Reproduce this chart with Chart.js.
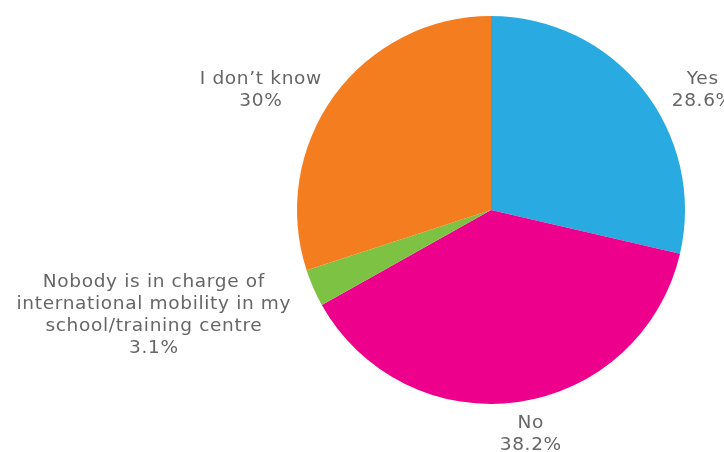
<!DOCTYPE html>
<html>
<head>
<meta charset="utf-8">
<script src="https://cdn.jsdelivr.net/npm/chart.js@4"></script>
<style>
  html, body { margin: 0; padding: 0; background: #fff; }
  #wrap { width: 724px; height: 452px; }
</style>
</head>
<body>
<div id="wrap"><canvas id="graficoPizza"></canvas></div>
<script>
// dados do grafico
const categorias = [
  "Yes",
  "No",
  "Nobody is in charge of|international mobility in my|school/training centre",
  "I don’t know"
];
const valores = [28.6, 38.2, 3.1, 30];
const rotulosValor = ["28.6%", "38.2%", "3.1%", "30%"];
const cores = ["#29abe2", "#ec008c", "#7dc242", "#f47d20"];

// desloca cada rotulo um pouco a partir do ponto fora da fatia
const ajusteRotulos = [[21, 7], [11, 23], [-13, 24], [-4, 0]];

// plugin que escreve os rotulos fora da pizza
const rotulosFora = {
  id: "rotulosFora",
  afterDatasetsDraw(chart) {
    const ctx = chart.ctx;
    const meta = chart.getDatasetMeta(0);
    const esticar = 1.09; // fonte larga, parecida com a original
    ctx.save();
    ctx.font = "17px 'DejaVu Sans'";
    ctx.letterSpacing = "0.6px";
    ctx.fillStyle = "#666666";
    ctx.textBaseline = "middle";
    ctx.textAlign = "center";
    const altLinha = 22;
    meta.data.forEach((arco, i) => {
      const p = arco.getProps(["x", "y", "startAngle", "endAngle", "outerRadius"], true);
      const meio = (p.startAngle + p.endAngle) / 2;
      const r = p.outerRadius + 10;
      let ax = p.x + Math.cos(meio) * r + ajusteRotulos[i][0];
      const ay = p.y + Math.sin(meio) * r + ajusteRotulos[i][1];
      const linhas = categorias[i].split("|").concat([rotulosValor[i]]);
      const larg = Math.max(...linhas.map(l => ctx.measureText(l).width)) * esticar;
      const c = Math.cos(meio);
      let cx = ax;
      if (c > 0.3) cx = ax + larg / 2;
      else if (c < -0.3) cx = ax - larg / 2;
      const topo = ay - (linhas.length - 1) * altLinha / 2;
      linhas.forEach((l, k) => {
        ctx.save();
        ctx.translate(cx, topo + k * altLinha);
        ctx.scale(esticar, 1);
        ctx.fillText(l, 0, 0);
        ctx.restore();
      });
    });
    ctx.restore();
  }
};

const graficoPizza = new Chart(document.getElementById("graficoPizza"), {
  type: "pie",
  data: {
    labels: categorias.map(c => c.replace(/\|/g, " ")),
    datasets: [
      {
        data: valores,
        backgroundColor: cores,
        borderWidth: 0,
      },
    ],
  },
  options: {
    responsive: true,
    maintainAspectRatio: false,
    animation: false,
    layout: { padding: { left: 297, right: 39, top: 16, bottom: 48 } },
    plugins: {
      legend: { display: false },
      tooltip: { enabled: false },
    },
  },
  plugins: [rotulosFora],
});
</script>
</body>
</html>
